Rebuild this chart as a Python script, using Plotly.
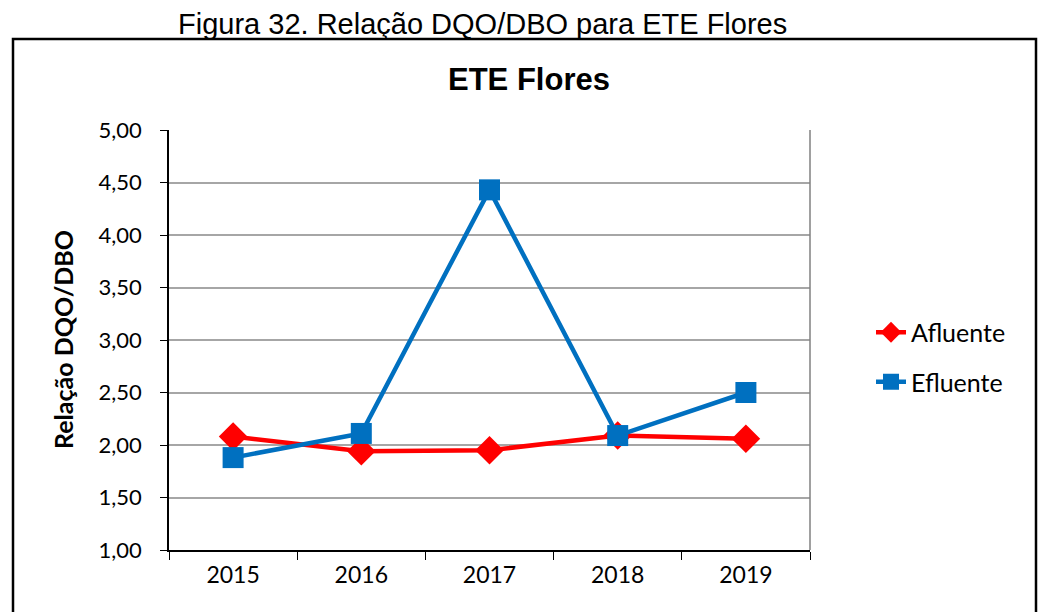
import plotly.graph_objects as go

years = ["2015", "2016", "2017", "2018", "2019"]
afluente = [2.08, 1.94, 1.95, 2.09, 2.06]
efluente = [1.88, 2.11, 4.43, 2.09, 2.50]
y_ticks = [1.0, 1.5, 2.0, 2.5, 3.0, 3.5, 4.0, 4.5, 5.0]

font_main = "Lato, Calibri, Carlito, sans-serif"
font_arial = "Liberation Sans, Arial, sans-serif"

L, R, T, B = 169, 810, 130, 550
PW, PH = R - L, B - T


def px(xp):
    return (xp - L) / PW


def py(yp):
    return (B - yp) / PH


fig = go.Figure()
fig.add_trace(go.Scatter(
    x=years, y=afluente, name="Afluente", mode="lines+markers",
    legendgroup="a",
    line=dict(color="#ff0000", width=4.5),
    marker=dict(symbol="diamond", size=22, color="#ff0000"),
))
fig.add_trace(go.Scatter(
    x=years, y=efluente, name="Efluente", mode="lines+markers",
    legendgroup="e",
    line=dict(color="#0070c0", width=4.5),
    marker=dict(symbol="square", size=21, color="#0070c0"),
))

fig.update_layout(
    width=1038, height=612,
    margin=dict(l=L, r=1038 - R, t=T, b=612 - B),
    paper_bgcolor="white", plot_bgcolor="white",
    separators=",.",
    showlegend=True,
    legend=dict(x=px(871), y=py(357), xanchor="left", yanchor="middle",
                font=dict(family=font_main, size=25, color="black"),
                traceorder="grouped", tracegroupgap=14,
                bgcolor="rgba(0,0,0,0)"),
    font=dict(family=font_main, color="black"),
)

fig.update_xaxes(
    type="category", range=[-0.5, 4.5],
    showline=True, linecolor="black", linewidth=1.5,
    ticks="outside", tickson="boundaries", ticklen=8, tickcolor="black",
    tickfont=dict(family=font_main, size=23, color="black"),
    ticklabelstandoff=4,
    showgrid=False, zeroline=False,
)
fig.update_yaxes(
    range=[1.0, 5.0], tickvals=y_ticks, tickformat=".2f",
    showline=True, linecolor="black", linewidth=1.5,
    ticks="outside", ticklen=7, tickcolor="black",
    tickfont=dict(family=font_main, size=22, color="black"),
    ticklabelstandoff=14,
    showgrid=True, gridcolor="#a6a6a6", gridwidth=1.5, zeroline=False,
)

# right border of the plot area
fig.add_shape(type="line", xref="paper", yref="paper", x0=1, x1=1, y0=0, y1=1,
              line=dict(color="#808080", width=1.5))

# outer frame of the figure
fig.add_shape(type="rect", xref="paper", yref="paper",
              x0=px(13), x1=px(1036), y0=py(640), y1=py(39),
              line=dict(color="black", width=2.5), layer="below")

fig.add_annotation(text="Figura 32. Relação DQO/DBO para ETE Flores",
                   xref="paper", yref="paper", x=px(482), y=py(24),
                   showarrow=False, xanchor="center", yanchor="middle",
                   font=dict(family=font_arial, size=29, color="black"))
fig.add_annotation(text="<b>ETE Flores</b>",
                   xref="paper", yref="paper", x=px(529), y=py(79),
                   showarrow=False, xanchor="center", yanchor="middle",
                   font=dict(family=font_arial, size=31, color="black"))
fig.add_annotation(text="<b>Relação DQO/DBO</b>",
                   xref="paper", yref="paper", x=px(63), y=py(340),
                   showarrow=False, xanchor="center", yanchor="middle",
                   textangle=-90,
                   font=dict(family=font_main, size=25, color="black"))

fig.write_html("out.html", config={"displayModeBar": False},
               post_script="document.body.style.margin='0';")
